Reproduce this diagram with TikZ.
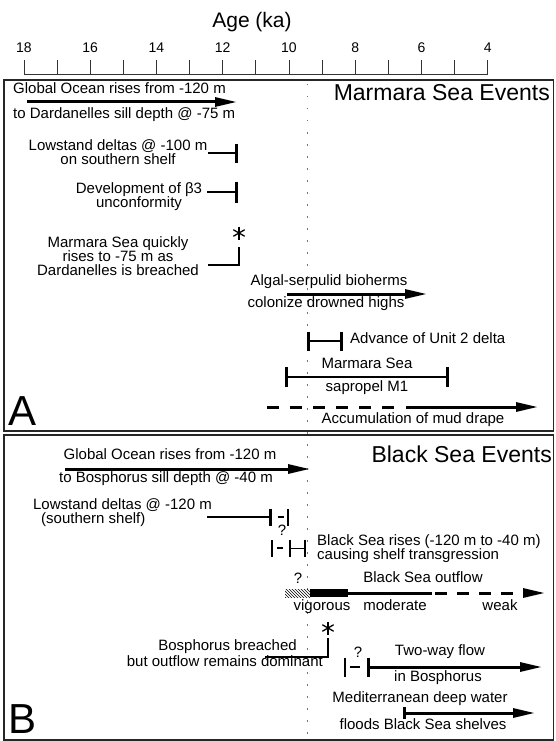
\documentclass[tikz,border=0pt]{standalone}
\usepackage{fontspec}
\setmainfont{Liberation Sans}
\usetikzlibrary{arrows.meta,patterns}

\begin{document}
\begin{tikzpicture}[x=1pt,y=-1pt,>={Triangle[length=22pt,width=9pt]},
    txt/.style={font=\fontsize{15}{14.2}\selectfont,inner sep=0pt,align=center},
    title/.style={font=\fontsize{23}{25}\selectfont,inner sep=0pt},
    panel/.style={font=\fontsize{42}{44}\selectfont,inner sep=0pt},
    bar/.style={line width=2.6pt},
    arr/.style={->,line width=3pt},
    frame/.style={line width=1.6pt,draw=black!85},
    pics/astk/.style={code={\foreach \r in {90,30,150}
        \draw[line width=1.3pt] (\r:6.5pt) -- (\r+180:6.5pt);}}]

  \useasboundingbox (0,0) rectangle (555,741);

  % age axis
  \node[inner sep=0pt,font=\fontsize{21}{23}\selectfont,anchor=base] (age) at (252,28) {Age (ka)};
  \foreach \a [count=\i from 0] in {18,16,...,4}
    \node[inner sep=0pt,font=\fontsize{14}{14}\selectfont,anchor=base] (t\a) at (24+\i*66.24,53) {\a};
  \foreach \i in {0,...,14}
    \draw[line width=0.8pt,black!80] (24+\i*33.12,60) -- (24+\i*33.12,74);
  \draw[line width=0.8pt,black!80] (24,74) -- (487.7,74);

  \draw[black!55,line width=0.9pt,dash pattern=on 1.5pt off 10.5pt] (307,84) -- (307,740);

  \draw[frame] (4,80) rectangle (553.5,431);
  \draw[frame] (4,435) rectangle (553.5,740);

  % A: Marmara Sea
  \node[title,anchor=mid east] (mse) at (550,98) {Marmara Sea Events};
  \node[panel,anchor=base west] (A) at (8,425) {A};

  \node[txt,anchor=mid west] (gom1) at (13,91) {Global Ocean rises from -120 m};
  \node[txt,anchor=mid west] (gom2) at (13,116) {to Dardanelles sill depth @ -75 m};
  \draw[arr] (27,102) -- (237,102);

  \node[txt,anchor=north] (lsa) at (118,139) {Lowstand deltas @ -100 m\\on southern shelf};
  \draw[bar,-{Bar[width=19pt]}] (208,153) -- (238,153);

  \node[txt,anchor=north] (beta) at (139,182) {Development of β3\\unconformity};
  \draw[bar,-{Bar[width=21pt]}] (207,192) -- (238,192);

  \node[txt,anchor=north] (mq) at (118,236) {Marmara Sea quickly\\rises to -75 m as\\Dardanelles is breached};
  \draw[bar] (208,265) -| (239,247);
  \pic at (239,233) {astk};

  \node[txt,anchor=mid] (alg1) at (329,283) {Algal-serpulid bioherms};
  \node[txt,anchor=mid] (alg2) at (326,305) {colonize drowned highs};
  \draw[arr] (287,294) -- (427,294);

  \draw[bar,{Bar[width=19pt]}-{Bar[width=19pt]}] (307,341) -- (343,341);
  \node[txt,anchor=mid west] (unit2) at (350,341) {Advance of Unit 2 delta};

  \node[txt,anchor=mid] (m1a) at (367,366) {Marmara Sea};
  \node[txt,anchor=mid] (m1b) at (367,389) {sapropel M1};
  \draw[bar,{Bar[width=20pt]}-{Bar[width=20pt]}] (285,377) -- (449,377);

  \draw[line width=3pt,dash pattern=on 12pt off 11pt] (267,407) -- (397,407);
  \draw[arr] (406,407) -- (538,407);
  \node[txt,anchor=mid] (mud) at (413,421) {Accumulation of mud drape};

  % B: Black Sea
  \node[title,anchor=mid east] (bse) at (552,460) {Black Sea Events};
  \node[panel,anchor=base west] (B) at (8,733) {B};

  \node[txt,anchor=mid] (gob1) at (170,457) {Global Ocean rises from -120 m};
  \node[txt,anchor=mid] (gob2) at (166,480) {to Bosphorus sill depth @ -40 m};
  \draw[arr] (65,469) -- (310,469);

  \node[txt,anchor=mid east] (lsb1) at (212,507) {Lowstand deltas @ -120 m};
  \node[txt,anchor=mid west] (lsb2) at (41,521) {(southern shelf)};
  \draw[bar,-{Bar[width=17pt]}] (207,517) -- (272,517);
  \draw[line width=2pt] (278,517) -- (284,517);
  \draw[line width=2pt] (288,509) -- (288,526);
  \node[txt,anchor=mid] (q1) at (282,533) {?};

  \draw[line width=2.6pt] (272,540) -- (272,557);
  \draw[line width=2pt] (277,548) -- (283,548);
  \draw[line width=1pt,{Bar[width=17pt,line width=2.4pt]}-{Bar[width=17pt,line width=2.4pt]}] (289,548) -- (306,548);
  \node[txt,anchor=north west,align=left] (bsr) at (317,534) {Black Sea rises (-120 m to -40 m)\\causing shelf transgression};

  \node[txt,anchor=mid] (q2) at (298,581) {?};
  \node[txt,anchor=mid] (bso) at (423,580) {Black Sea outflow};
  \fill[pattern=north west lines] (285,589) rectangle (310,597);
  \fill (310,589) rectangle (348,597);
  \draw[line width=3pt] (348,593) -- (432,593);
  \draw[arr,dash pattern=on 12pt off 10pt] (435,593) -- (545,593);
  \node[txt,anchor=base] (vig) at (322,610) {vigorous};
  \node[txt,anchor=base] (mod) at (395,610) {moderate};
  \node[txt,anchor=base] (weak) at (500,610) {weak};

  \pic at (328,628) {astk};
  \draw[bar] (265,657) -| (328,638);
  \node[txt,anchor=mid east] (bb1) at (297,648) {Bosphorus breached};
  \node[txt,anchor=mid east] (bb2) at (323,664) {but outflow remains dominant};

  \draw[line width=2.6pt] (345,658) -- (345,677);
  \draw[line width=2pt] (350,667) -- (360,667);
  \node[txt,anchor=mid] (q3) at (358,655) {?};
  \draw[arr,{Bar[width=19pt]}->] (367,667) -- (542,667);
  \node[txt,anchor=mid] (tw1) at (440,653) {Two-way flow};
  \node[txt,anchor=mid] (tw2) at (438,679) {in Bosphorus};

  \node[txt,anchor=mid] (med1) at (420,700) {Mediterranean deep water};
  \draw[arr,{Bar[width=12pt]}->] (403,713) -- (535,713);
  \node[txt,anchor=mid] (med2) at (423,727) {floods Black Sea shelves};
\end{tikzpicture}
\end{document}
